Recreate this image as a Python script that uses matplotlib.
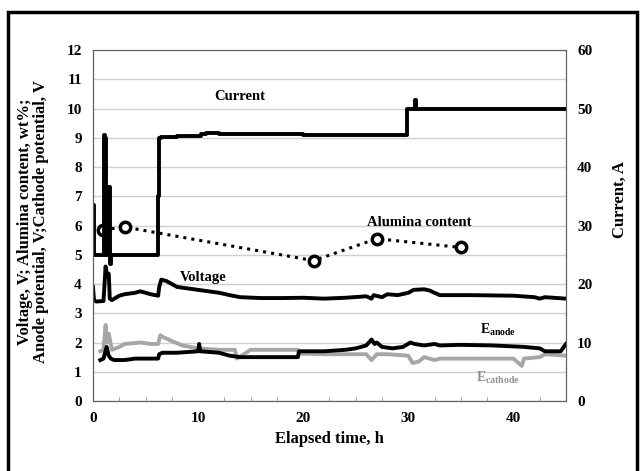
import matplotlib.pyplot as plt
from matplotlib.patches import Rectangle
from matplotlib.ticker import MultipleLocator

# current, A (right axis), step data
cur_t = [0, 0.05, 1.05, 1.15, 1.25, 1.45, 1.6, 1.7, 6.2, 6.3, 6.45, 8, 10.3, 10.8, 12, 20, 29.9, 30.0, 30.6, 30.7, 30.8, 45]
cur_a = [33.5, 25, 45.5, 45, 25, 36.5, 23.5, 25, 35, 45, 45.1, 45.3, 45.6, 45.8, 45.6, 45.5, 50, 50, 51.5, 50, 50, 50]

# voltage, V
volt_t = [0, 0.1, 0.3, 1.0, 1.1, 1.2, 1.35, 1.5, 1.6, 1.8, 2.5, 3.0, 4.0, 4.5, 5.0, 5.5, 6.2, 6.3, 6.5, 7.0, 7.5, 8.0, 9.0, 10.0, 11.0, 12.0, 13.0, 14.0, 16.0, 18.0, 20.0, 22.0, 24.0, 26.0, 26.5, 26.7, 27.5, 28.0, 29.0, 30.0, 30.5, 31.5, 32.0, 33.0, 36.0, 40.0, 42.0, 42.5, 43.0, 45.0]
volt_v = [3.9, 3.45, 3.4, 3.42, 4.0, 4.6, 4.3, 4.35, 3.5, 3.45, 3.6, 3.65, 3.7, 3.75, 3.7, 3.65, 3.6, 3.9, 4.15, 4.1, 4.0, 3.9, 3.85, 3.8, 3.75, 3.7, 3.62, 3.55, 3.52, 3.52, 3.53, 3.5, 3.53, 3.58, 3.5, 3.62, 3.55, 3.65, 3.62, 3.7, 3.8, 3.82, 3.78, 3.62, 3.62, 3.6, 3.55, 3.5, 3.55, 3.5]

# alumina content, wt%
al_t = [1.0, 3.0, 21.0, 27.0, 35.0]
al_c = [5.85, 5.95, 4.8, 5.55, 5.25]

# anode potential, V
an_t = [0.7, 1.0, 1.3, 1.5, 1.7, 2.0, 3.0, 4.0, 5.0, 6.2, 6.3, 6.6, 8.0, 10.0, 10.1, 10.2, 12.0, 13.0, 14.0, 16.0, 19.5, 19.6, 22.0, 24.0, 25.0, 26.0, 26.5, 26.8, 27.0, 27.5, 28.5, 29.5, 30.2, 30.6, 31.5, 32.5, 33.0, 35.0, 38.0, 41.0, 42.5, 43.0, 44.5, 45.0]
an_v = [1.4, 1.45, 1.85, 1.55, 1.45, 1.4, 1.4, 1.45, 1.45, 1.45, 1.6, 1.65, 1.65, 1.7, 1.95, 1.7, 1.65, 1.55, 1.5, 1.5, 1.5, 1.7, 1.7, 1.75, 1.8, 1.9, 2.1, 1.95, 2.0, 1.85, 1.8, 1.85, 2.0, 1.95, 1.9, 1.95, 1.9, 1.92, 1.9, 1.85, 1.8, 1.7, 1.7, 1.95]

# cathode potential, V
ca_t = [0.7, 1.0, 1.2, 1.35, 1.5, 1.8, 2.5, 3.0, 4.5, 5.5, 6.2, 6.4, 6.6, 7.5, 8.5, 10.0, 12.0, 13.5, 13.7, 15.0, 19.5, 19.6, 22.0, 26.0, 26.5, 27.0, 28.0, 30.0, 30.4, 31.0, 31.5, 32.5, 33.0, 35.0, 40.0, 40.8, 41.0, 42.5, 43.0, 45.0]
ca_v = [1.7, 1.75, 2.6, 2.0, 2.3, 1.75, 1.85, 1.95, 2.0, 1.95, 1.95, 2.25, 2.2, 2.05, 1.9, 1.8, 1.75, 1.75, 1.45, 1.75, 1.75, 1.62, 1.6, 1.6, 1.4, 1.6, 1.6, 1.55, 1.3, 1.35, 1.5, 1.4, 1.45, 1.45, 1.45, 1.2, 1.45, 1.5, 1.6, 1.55]

plt.rcParams['font.family'] = 'Liberation Serif'
plt.rcParams['font.weight'] = 'bold'

fig = plt.figure(figsize=(6.43, 4.71), dpi=100)
ax = fig.add_axes([0.1446, 0.1486, 0.7356, 0.7452])
ax2 = ax.twinx()

lw = 2.8
ax.plot(volt_t, volt_v, color='black', lw=lw)
ax.plot(ca_t, ca_v, color='#a6a6a6', lw=lw)
ax.plot(an_t, an_v, color='black', lw=lw)
ax.plot(al_t, al_c, color='black', lw=2.2, ls=':', marker='o', ms=7.5,
        mfc='white', mec='black', mew=2.5)
ax2.plot(cur_t, cur_a, color='black', lw=lw, drawstyle='steps-post')

ax.set_xlim(0, 45)
ax.set_ylim(0, 12)
ax2.set_ylim(0, 60)
ax.set_xticks([0, 10, 20, 30, 40])
ax.xaxis.set_minor_locator(MultipleLocator(2.5))
ax.set_yticks(range(0, 13))
ax2.set_yticks(range(0, 61, 10))
ax.grid(axis='y', color='#d0d0d0', lw=1)
ax.set_axisbelow(True)

for a in (ax, ax2):
    for s in a.spines.values():
        s.set_color('#606060')
    a.tick_params(length=0, labelsize=11, pad=8)
ax.tick_params(axis='x', which='minor', direction='in', length=3, color='#909090')

ax.set_xlabel('Elapsed time, h', fontsize=12, fontweight='bold')
ax.set_ylabel('Voltage, V; Alumina content, wt%;\nAnode potential, V;Cathode potential, V',
              fontsize=12, fontweight='bold', linespacing=1.0)
ax.yaxis.set_label_coords(-0.092, 0.51)
ax2.set_ylabel('Current, A', fontsize=12, fontweight='bold')
ax2.yaxis.set_label_coords(1.097, 0.575)

ax.text(14, 10.3, 'Current', fontsize=10.5, fontweight='bold', ha='center')
ax.text(31, 6.0, 'Alumina content', fontsize=10.5, fontweight='bold', ha='center')
ax.text(10.5, 4.1, 'Voltage', fontsize=10.5, fontweight='bold', ha='center')
ax.text(38.5, 2.3, r'E$_{\mathregular{anode}}$', fontsize=10, fontweight='bold', ha='center')
ax.text(38.5, 0.65, r'E$_{\mathregular{cathode}}$', fontsize=10, fontweight='bold',
        ha='center', color='#909090')

fig.patches.append(Rectangle((8 / 643, -0.05), 629 / 643, 1.05 - 12 / 471,
                             transform=fig.transFigure, fill=False,
                             edgecolor='black', lw=2.5))

fig.savefig('out.png', dpi=100)
